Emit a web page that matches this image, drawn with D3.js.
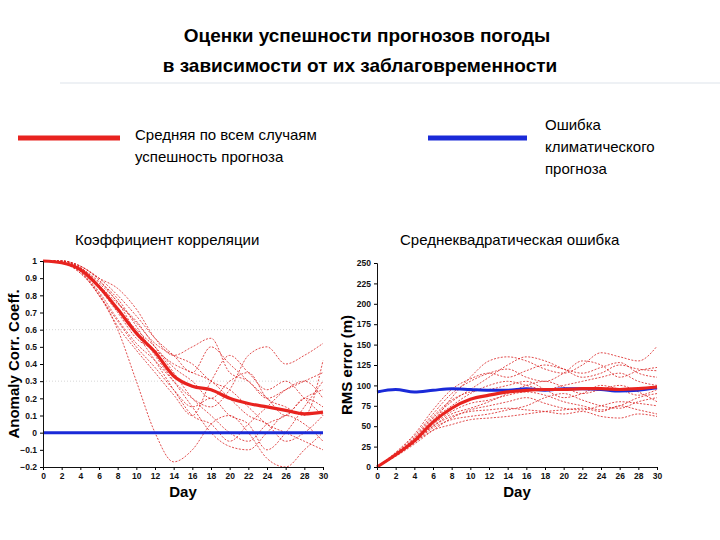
<!DOCTYPE html>
<html><head><meta charset="utf-8">
<script src="https://cdn.jsdelivr.net/npm/d3@7"></script>
<style>body{margin:0;background:#fff}svg{font-family:"Liberation Sans",Arial,sans-serif}</style>
</head><body><svg id="c" width="720" height="540"></svg>
<script>
// days sampled every 2 days
var days = d3.range(0, 31, 2)

// anomaly correlation: mean and ensemble members
var accMean = [1, 0.99, 0.95, 0.85, 0.72, 0.58, 0.47, 0.33, 0.27, 0.25, 0.2, 0.17, 0.15, 0.13, 0.11, 0.12]
var accClim = [0, 0, 0, 0, 0, 0, 0, 0, 0, 0, 0, 0, 0, 0, 0, 0]
var accMembers = [
  [1, 0.99, 0.93, 0.8, 0.6, 0.3, 0.0, -0.17, -0.1, 0.05, 0.1, 0.0, -0.15, -0.2, -0.1, 0.0],
  [1, 1, 0.97, 0.9, 0.84, 0.72, 0.55, 0.45, 0.5, 0.55, 0.35, 0.3, 0.2, 0.25, 0.3, 0.35],
  [1, 0.99, 0.96, 0.86, 0.75, 0.65, 0.5, 0.35, 0.2, 0.1, 0.0, -0.05, 0.05, 0.1, 0.2, 0.25],
  [1, 0.99, 0.94, 0.82, 0.66, 0.52, 0.42, 0.3, 0.2, 0.15, 0.25, 0.45, 0.5, 0.4, 0.45, 0.52],
  [1, 1, 0.96, 0.88, 0.78, 0.62, 0.45, 0.3, 0.15, 0.0, -0.08, -0.1, 0.0, 0.1, 0.05, -0.05],
  [1, 0.99, 0.95, 0.84, 0.7, 0.55, 0.48, 0.4, 0.35, 0.3, 0.2, 0.1, 0.05, -0.05, 0.0, 0.1],
  [1, 1, 0.97, 0.9, 0.8, 0.68, 0.55, 0.45, 0.35, 0.5, 0.4, 0.3, 0.2, 0.1, 0.2, 0.15],
  [1, 0.99, 0.94, 0.8, 0.65, 0.5, 0.38, 0.25, 0.15, 0.2, 0.1, 0.05, -0.1, 0.0, 0.15, 0.3],
  [1, 0.99, 0.95, 0.85, 0.72, 0.6, 0.5, 0.38, 0.3, 0.2, 0.3, 0.35, 0.2, 0.15, 0.1, 0.42],
  [1, 1, 0.96, 0.87, 0.76, 0.58, 0.42, 0.25, 0.1, 0.05, -0.05, 0.05, 0.15, 0.25, 0.3, 0.2],
  [1, 0.99, 0.93, 0.81, 0.62, 0.48, 0.35, 0.22, 0.1, 0.3, 0.45, 0.35, 0.25, 0.3, 0.2, 0.1],
  [1, 1, 0.97, 0.89, 0.76, 0.64, 0.52, 0.45, 0.4, 0.3, 0.25, 0.15, 0.05, 0.0, -0.05, -0.1]
]

// rms error: mean, climatology and ensemble members
var rmsMean = [0, 15, 32, 55, 72, 83, 88, 92, 94, 95, 95, 96, 96, 95, 96, 98]
var rmsClim = [92, 95, 92, 94, 96, 95, 94, 94, 96, 94, 96, 96, 95, 93, 94, 97]
var rmsMembers = [
  [0, 14, 30, 55, 85, 110, 130, 135, 130, 120, 115, 125, 140, 135, 130, 148],
  [0, 16, 35, 60, 80, 95, 110, 125, 135, 130, 120, 110, 115, 125, 120, 118],
  [0, 13, 28, 45, 60, 70, 75, 80, 85, 78, 72, 70, 75, 80, 78, 75],
  [0, 15, 32, 50, 62, 68, 70, 72, 70, 68, 65, 68, 62, 60, 65, 62],
  [0, 17, 38, 65, 90, 105, 115, 120, 110, 105, 115, 130, 125, 110, 118, 122],
  [0, 14, 30, 48, 58, 62, 65, 70, 75, 85, 90, 82, 75, 72, 80, 85],
  [0, 16, 34, 58, 75, 90, 100, 105, 100, 95, 100, 105, 110, 115, 105, 100],
  [0, 15, 33, 52, 68, 78, 82, 88, 92, 88, 80, 75, 70, 75, 85, 90],
  [0, 14, 30, 45, 52, 58, 60, 62, 65, 68, 70, 72, 68, 75, 70, 65],
  [0, 18, 40, 70, 95, 108, 115, 110, 118, 125, 120, 115, 122, 128, 115, 110],
  [0, 15, 31, 50, 65, 72, 80, 90, 100, 105, 98, 90, 95, 100, 92, 80],
  [0, 16, 36, 62, 82, 92, 95, 100, 105, 95, 85, 90, 100, 95, 88, 95]
]

var accTicks = [1, 0.9, 0.8, 0.7, 0.6, 0.5, 0.4, 0.3, 0.2, 0.1, 0, -0.1, -0.2]
var rmsTicks = d3.range(0, 251, 25)
var dayTicks = d3.range(0, 31, 2)

var svg = d3.select('#c')

// title
svg.append('text').attr('x', 367).attr('y', 42).attr('text-anchor', 'middle')
  .attr('font-size', 19).attr('font-weight', 'bold').text('Оценки успешности прогнозов погоды')
svg.append('text').attr('x', 360).attr('y', 72).attr('text-anchor', 'middle')
  .attr('font-size', 19).attr('font-weight', 'bold').text('в зависимости от их заблаговременности')
svg.append('line').attr('x1', 60).attr('x2', 720).attr('y1', 83).attr('y2', 83)
  .attr('stroke', '#dde3ea').attr('stroke-width', 1)

// legend
svg.append('line').attr('x1', 18).attr('x2', 120).attr('y1', 138).attr('y2', 138)
  .attr('stroke', '#e8231f').attr('stroke-width', 5)
svg.append('line').attr('x1', 428).attr('x2', 527).attr('y1', 138).attr('y2', 138)
  .attr('stroke', '#1a2ad8').attr('stroke-width', 5)
var leg = [[135, 140, 'Средняя по всем случаям'], [135, 162, 'успешность прогноза'],
  [545, 130, 'Ошибка'], [545, 152, 'климатического'], [545, 174, 'прогноза']]
leg.forEach(function (d) {
  svg.append('text').attr('x', d[0]).attr('y', d[1]).attr('font-size', 15).text(d[2])
})
svg.append('text').attr('x', 75).attr('y', 245).attr('font-size', 15).text('Коэффициент корреляции')
svg.append('text').attr('x', 400).attr('y', 245).attr('font-size', 15).text('Среднеквадратическая ошибка')

function panel (x0, x1, y0, y1, domain, ticks, fmt, members, mean, clim, ylabel, labelX, grid) {
  var x = d3.scaleLinear().domain([0, 30]).range([x0, x1])
  var y = d3.scaleLinear().domain(domain).range([y1, y0])
  var g = svg.append('g')
  if (grid) {
    grid.forEach(function (v) {
      g.append('line').attr('x1', x0).attr('x2', x1).attr('y1', y(v)).attr('y2', y(v))
        .attr('stroke', '#bbb').attr('stroke-width', 0.6).attr('stroke-dasharray', '1,2')
    })
  }
  var line = d3.line().x(function (d, i) { return x(days[i]) }).y(function (d) { return y(d) })
    .curve(d3.curveMonotoneX)
  g.selectAll('.m').data(members).enter().append('path')
    .attr('d', line).attr('fill', 'none').attr('stroke', '#d92020')
    .attr('stroke-width', 0.8).attr('stroke-dasharray', '2,1.5')
  g.append('path').attr('d', line(clim)).attr('fill', 'none').attr('stroke', '#1a2ad8').attr('stroke-width', 3)
  g.append('path').attr('d', line(mean)).attr('fill', 'none').attr('stroke', '#e8231f').attr('stroke-width', 3.2)

  var ax = g.append('g').attr('transform', 'translate(0,' + y1 + ')')
    .call(d3.axisBottom(x).tickValues(dayTicks).tickSize(3))
  var ay = g.append('g').attr('transform', 'translate(' + x0 + ',0)')
    .call(d3.axisLeft(y).tickValues(ticks).tickFormat(fmt).tickSize(3))
  ;[ax, ay].forEach(function (a) {
    a.selectAll('text').attr('font-size', 8.5).attr('font-weight', 'bold').attr('fill', '#111')
    a.select('.domain').attr('stroke', '#111')
  })
  g.append('text').attr('x', (x0 + x1) / 2).attr('y', y1 + 30).attr('text-anchor', 'middle')
    .attr('font-size', 15).attr('font-weight', 'bold').text('Day')
  g.append('text').attr('transform', 'translate(' + labelX + ',' + ((y0 + y1) / 2) + ') rotate(-90)')
    .attr('text-anchor', 'middle').attr('font-size', 15).attr('font-weight', 'bold').text(ylabel)
}

panel(43, 323, 261, 467, [-0.2, 1], accTicks, function (d) { return d3.format('')(+d.toFixed(1)) },
  accMembers, accMean, accClim, 'Anomaly Corr. Coeff.', 19, [0.6, 0.3])
panel(377, 657, 263, 467, [0, 250], rmsTicks, d3.format('d'),
  rmsMembers, rmsMean, rmsClim, 'RMS error (m)', 352, null)
</script></body></html>
